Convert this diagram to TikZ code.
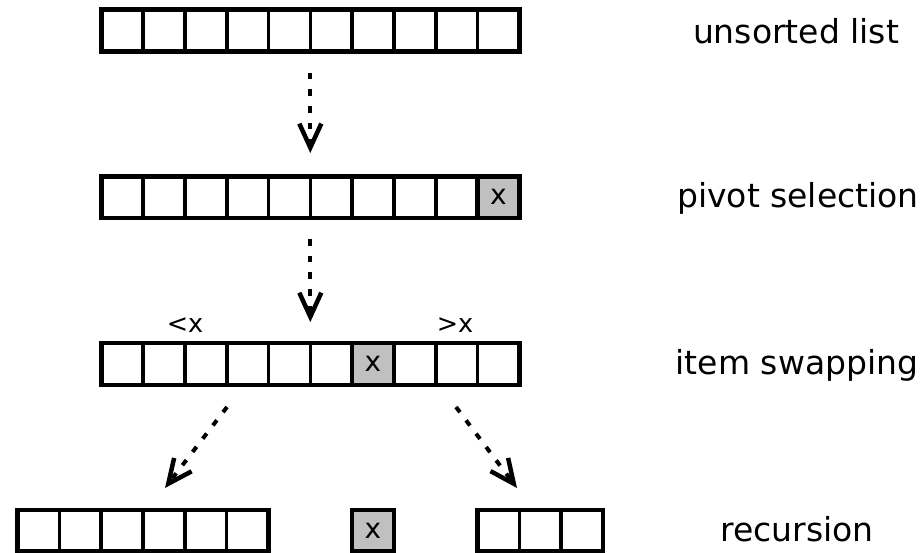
\documentclass[tikz,border=0pt]{standalone}
\usepackage{fontspec}
\setmainfont{DejaVu Sans}
\usetikzlibrary{arrows.meta}
\definecolor{pivotgray}{RGB}{192,192,192}

% one row of list cells: name, left x, top y, number of cells
\newcommand\cellrow[4]{%
  \foreach \i in {1,...,#4}
    \node[cell] (#1-\i) at ({#2+(\i-0.5)*41.8}, {#3+20.9}) {};
  \node[frame, minimum width={#4*41.8pt}] (#1) at ({#2+#4*20.9}, {#3+20.9}) {};
}

\begin{document}
\begin{tikzpicture}[x=1pt, y=-1pt,
  cell/.style={draw, line width=3.6pt, minimum size=41.8pt, inner sep=0pt,
    outer sep=0pt, font=\fontsize{28}{30}\selectfont},
  pivot/.style={cell, fill=pivotgray, line width=4.5pt},
  frame/.style={draw, line width=4.5pt, minimum height=41.8pt, inner sep=0pt,
    outer sep=0pt},
  flow/.style={line width=4pt, dash pattern=on 6.5pt off 10.2pt,
    -{Straight Barb[length=24pt, width=22pt, line width=4.5pt, sharp]}},
  caption/.style={anchor=base, font=\fontsize{33}{38}\selectfont},
  side/.style={font=\fontsize{25.5}{28}\selectfont}]

\useasboundingbox (0,0) rectangle (924,553);

% the four stages of the list
\cellrow{unsorted}{101.3}{9.5}{10}
\cellrow{pivoted}{101.3}{176.3}{10}
\node[pivot] (pivoted-x) at (pivoted-10) {x};
\cellrow{swapped}{101.3}{343.1}{10}
\node[pivot] (swapped-x) at (swapped-7) {x};
\cellrow{lower}{17.5}{509.9}{6}
\node[pivot] (mid) at (swapped-7 |- lower) {x};
\cellrow{upper}{477.5}{509.9}{3}

% partition labels
\node[side] (less) at (185,325) {<x};
\node[side] (more) at (455,325) {>x};

% stage captions
\node[caption] (cap-unsorted) at (796,43.5) {unsorted list};
\node[caption] (cap-pivot) at (798,207.5) {pivot selection};
\node[caption] (cap-swap) at (797,374) {item swapping};
\node[caption] (cap-rec) at (797,541.5) {recursion};

% transitions between stages
\draw[flow, shorten <=21.4pt, shorten >=23.3pt] (unsorted.south) -- (pivoted.north);
\draw[flow, shorten <=21pt, shorten >=21pt] (pivoted.south) -- (swapped.north);

\coordinate (split-l) at (227,407);
\coordinate (lower-in) at (165,488);
\coordinate (split-r) at (456,407);
\coordinate (upper-in) at (517,488);
\draw[flow] (split-l) -- (lower-in);
\draw[flow] (split-r) -- (upper-in);

\end{tikzpicture}
\end{document}
